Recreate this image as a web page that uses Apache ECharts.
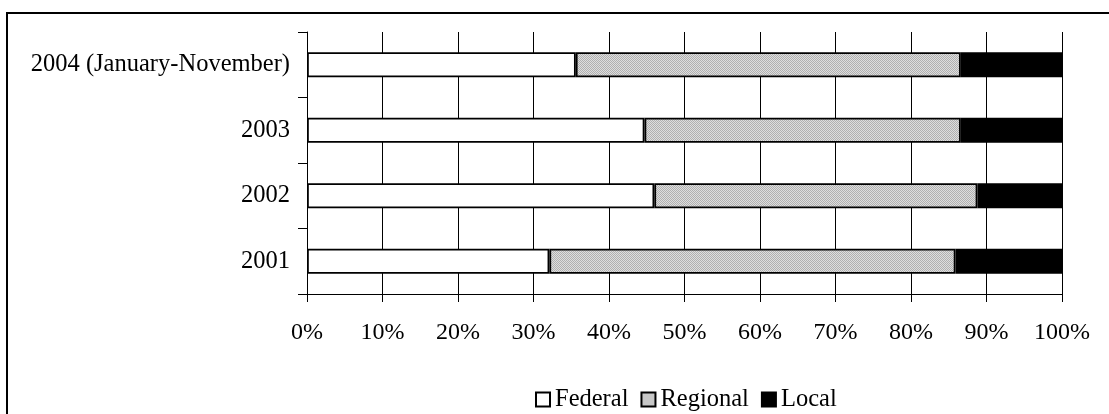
<!DOCTYPE html>
<html>
<head>
<meta charset="utf-8">
<script src="https://cdn.jsdelivr.net/npm/echarts@6/dist/echarts.min.js"></script>
<style>
  html, body { margin: 0; padding: 0; background: #fff; }
  #chart { width: 1109px; height: 414px; }
</style>
</head>
<body>
<div id="chart"></div>
<script>
// Shares of spending by level of government, per year (percent)
const categories = ['2001', '2002', '2003', '2004 (January-November)'];
const federal  = [32.1, 46.0, 44.7, 35.6];
const regional = [53.8, 42.8, 41.9, 51.0];
const local    = [14.1, 11.2, 13.4, 13.4];
const seriesNames = ['Federal', 'Regional', 'Local'];

// Fine grey checker used as the fill of the Regional segments
function checkerPattern() {
  const c = document.createElement('canvas');
  c.width = 2; c.height = 2;
  const g = c.getContext('2d');
  g.fillStyle = '#dedede'; g.fillRect(0, 0, 2, 2);
  g.fillStyle = '#b0b0b0'; g.fillRect(0, 0, 1, 1); g.fillRect(1, 1, 1, 1);
  return { image: c, repeat: 'repeat' };
}

const FONT = '"Liberation Serif", "Times New Roman", serif';
const chart = echarts.init(document.getElementById('chart'), null, { renderer: 'canvas' });

const barStyle = (fill) => ({ color: fill, borderColor: '#000', borderWidth: 1.8 });

chart.setOption({
  animation: false,
  backgroundColor: '#fff',
  graphic: [{
    type: 'rect',
    shape: { x: 7, y: 13, width: 1130, height: 440 },
    style: { fill: 'none', stroke: '#000', lineWidth: 2 },
    silent: true
  }],
  grid: { left: 307, top: 32, width: 755, height: 262, containLabel: false },
  legend: {
    data: seriesNames,
    left: 530, top: 382,
    icon: 'rect',
    itemWidth: 14, itemHeight: 14, itemGap: 12,
    textStyle: { fontFamily: FONT, fontSize: 24.5, color: '#000', padding: [0, 0, 0, 0] },
    selectedMode: false
  },
  xAxis: {
    type: 'value', min: 0, max: 100, interval: 10,
    axisLine: { show: true, lineStyle: { color: '#000', width: 1 } },
    axisTick: { show: true, length: 8, lineStyle: { color: '#000' } },
    axisLabel: { formatter: '{value}%', fontFamily: FONT, fontSize: 24, color: '#000', margin: 27 },
    splitLine: { show: true, lineStyle: { color: '#000', width: 1 } }
  },
  yAxis: {
    type: 'category', data: categories,
    axisLine: { show: true, lineStyle: { color: '#000', width: 1 } },
    axisTick: { show: true, length: 9, alignWithLabel: false, lineStyle: { color: '#000' } },
    axisLabel: { fontFamily: FONT, fontSize: 24.5, color: '#000', margin: 17 }
  },
  series: [
    { name: seriesNames[0], type: 'bar', stack: 'all', data: federal,  barWidth: 25, itemStyle: barStyle('#fff') },
    { name: seriesNames[1], type: 'bar', stack: 'all', data: regional, barWidth: 25, itemStyle: barStyle(checkerPattern()) },
    { name: seriesNames[2], type: 'bar', stack: 'all', data: local,    barWidth: 25, itemStyle: barStyle('#000') }
  ]
});
</script>
</body>
</html>
